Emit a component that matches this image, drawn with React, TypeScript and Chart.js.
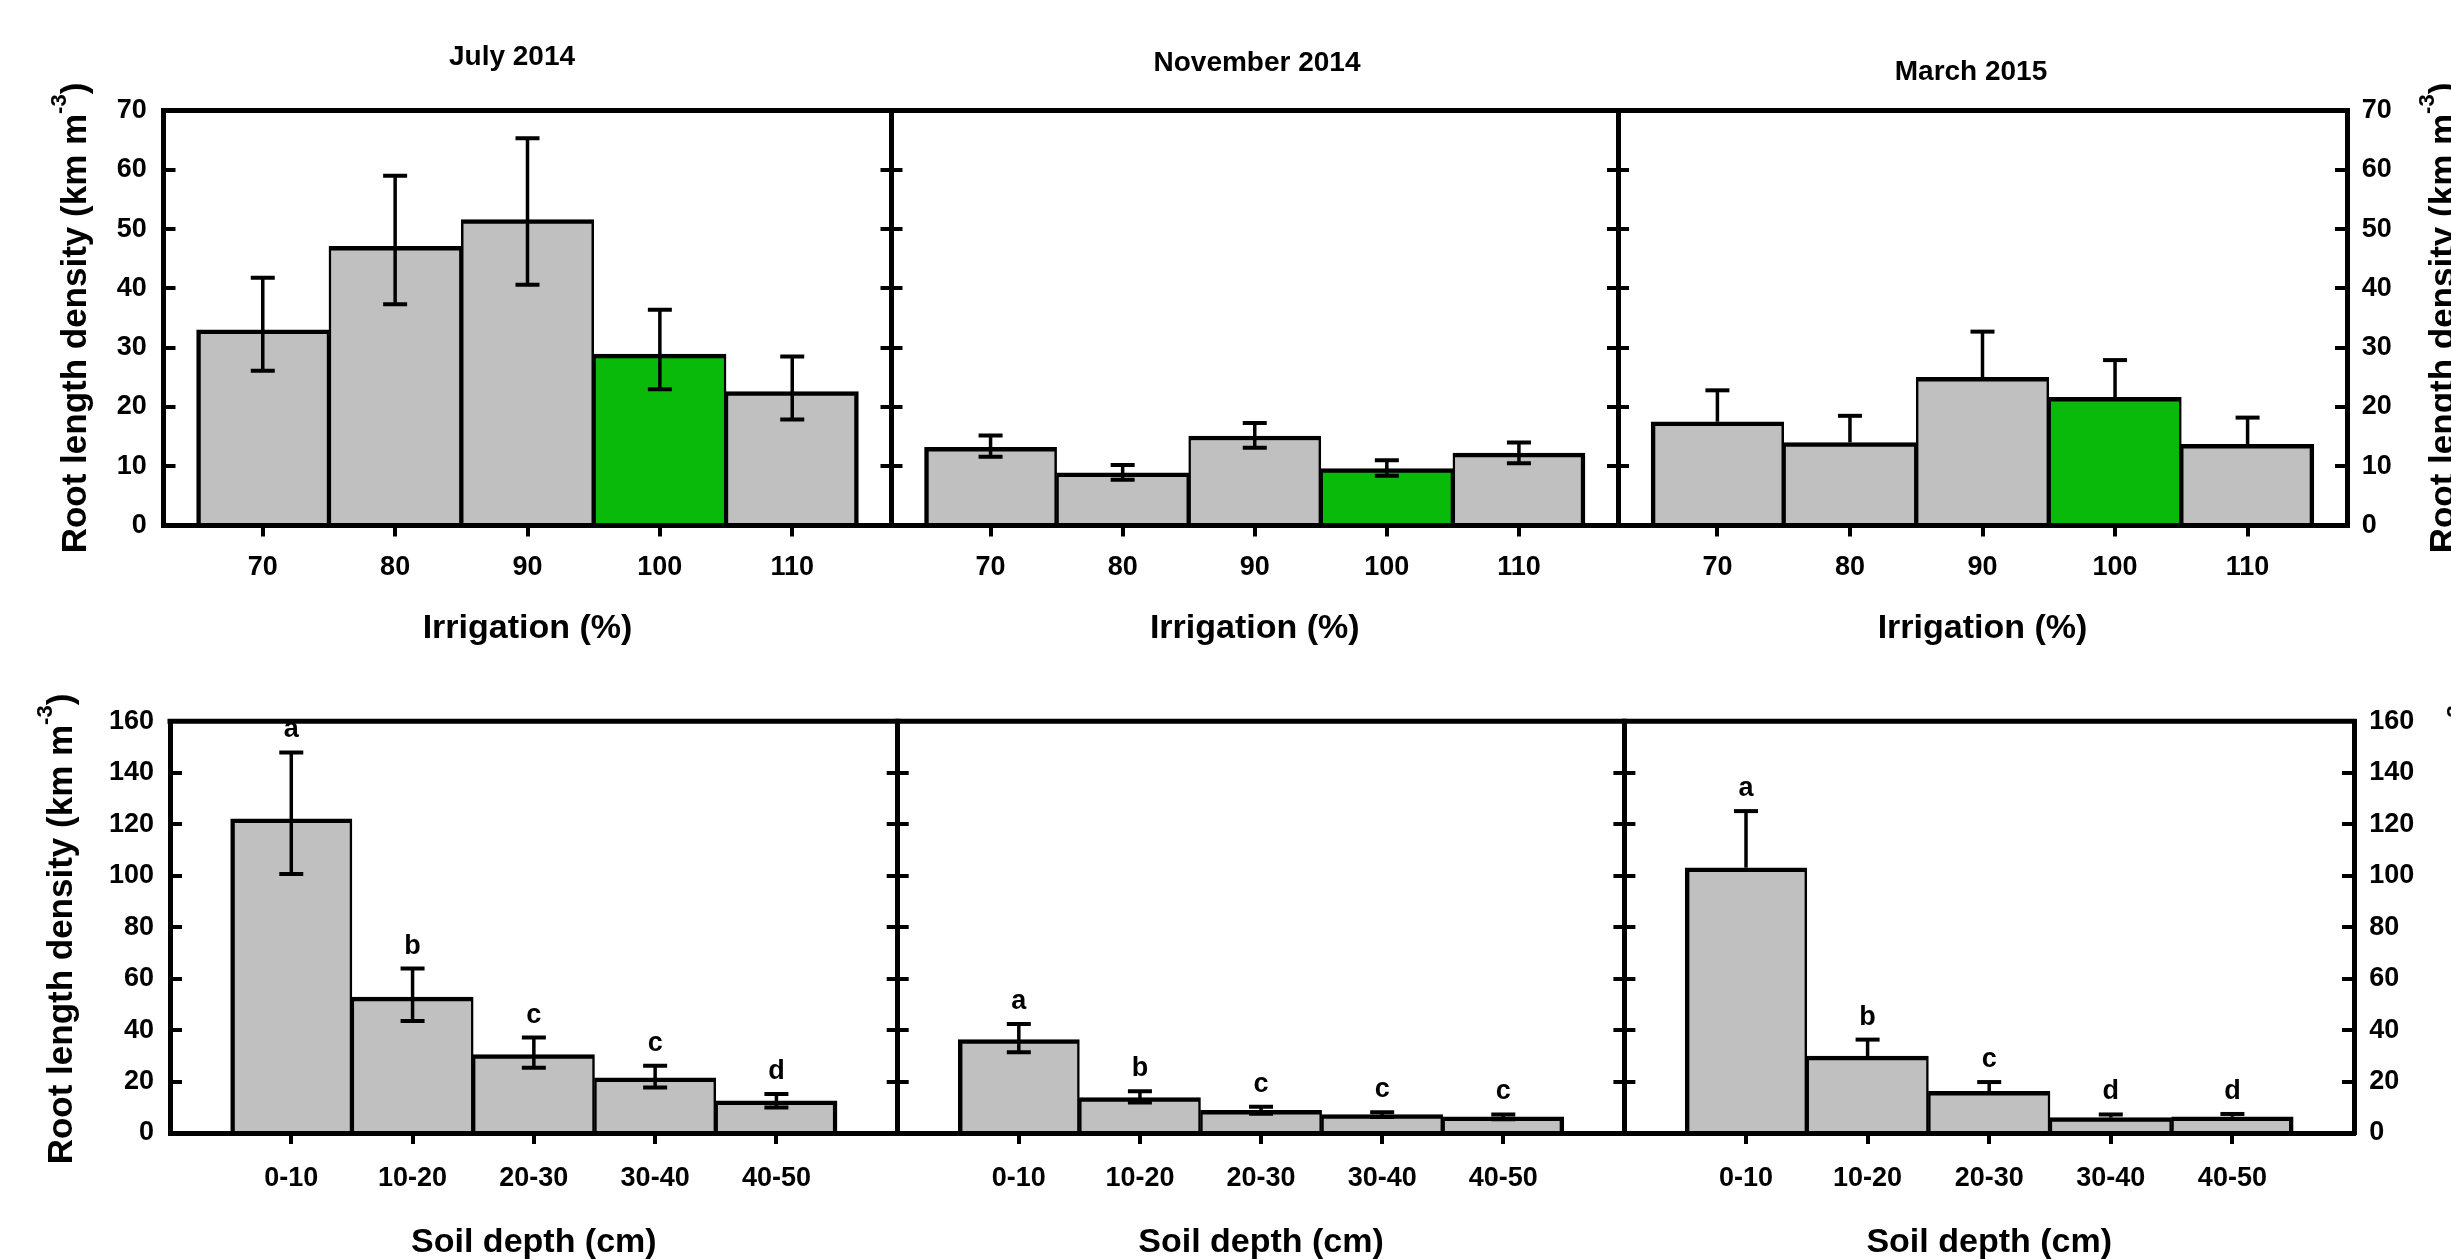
import React, { useEffect, useRef } from 'react';
import { Chart, registerables } from 'chart.js';

Chart.register(...registerables);

const FONT = "'Liberation Sans', Arial, Helvetica, sans-serif";

// ---------------- Data ----------------
const irrigationLevels = [70, 80, 90, 100, 110];
const irrigationTickLabels = ['70', '80', '90', '100', '110'];
const controlIrrigation = 100;

const julyIrrigationMean = [33.0, 47.1, 51.6, 28.9, 22.6];
const julyIrrigationErrUp = [8.8, 11.9, 13.7, 7.5, 5.9];
const julyIrrigationErrDown = [6.9, 9.8, 11.0, 5.9, 4.7];

const novIrrigationMean = [13.2, 8.9, 15.1, 9.6, 12.2];
const novIrrigationErrUp = [2.0, 1.3, 2.2, 1.4, 1.8];
const novIrrigationErrDown = [1.6, 1.2, 2.0, 1.2, 1.7];

const marIrrigationMean = [17.5, 14.0, 25.0, 21.6, 13.7];
const marIrrigationErrUp = [5.3, 4.5, 7.7, 6.3, 4.5];

const depthPositions = [1, 2, 3, 4, 5];
const depthTickLabels = ['0-10', '10-20', '20-30', '30-40', '40-50'];

const julyDepthMean = [122.1, 52.8, 30.5, 21.4, 12.5];
const julyDepthErrUp = [25.8, 11.1, 6.6, 4.7, 2.7];
const julyDepthErrDown = [21.4, 9.3, 5.1, 3.7, 2.6];
const julyDepthLetters = ['a', 'b', 'c', 'c', 'd'];

const novDepthMean = [36.3, 13.8, 8.8, 7.2, 6.3];
const novDepthErrUp = [6.1, 2.4, 1.4, 0.9, 0.9];
const novDepthErrDown = [4.9, 1.9, 1.3, 1.0, 1.0];
const novDepthLetters = ['a', 'b', 'c', 'c', 'c'];

const marDepthMean = [103.1, 29.9, 16.2, 6.0, 6.3];
const marDepthErrUp = [22.0, 6.4, 3.6, 1.2, 1.1];
const marDepthLetters = ['a', 'b', 'c', 'd', 'd'];

const samplingDates = ['July 2014', 'November 2014', 'March 2015'];
const irrigationYTicks = [0, 10, 20, 30, 40, 50, 60, 70];
const depthYTicks = [0, 20, 40, 60, 80, 100, 120, 140, 160];
const yAxisTitleMain = 'Root length density (km m';
const yAxisTitleSup = '-3';
const yAxisTitleEnd = ')';
const irrigationAxisTitle = 'Irrigation (%)';
const depthAxisTitle = 'Soil depth (cm)';

const GRAY = '#c0c0c0';
const GREEN = '#0aba0a';

// ---------------- Layout / panel config ----------------
type PanelCfg = {
  box: [number, number, number, number];
  area: [number, number, number, number];
  x: number[];
  xLabels: string[];
  xMin: number;
  xMax: number;
  xTitle: string;
  xTickPad: number;
  xTitlePadBottom: number;
  yTicks: number[];
  mean: number[];
  up: number[];
  down: number[] | null;
  letters: string[] | null;
  colors: string[];
  title?: { text: string; cx: number; cy: number };
  leftLabels: boolean;
  rightLabels: boolean;
  leftTick: number;
  rightTick: number;
  leftPad: number;
  rightPad: number;
  yTitle?: { side: 'left' | 'right'; baseline: number; center: number };
};

const irrColors = irrigationLevels.map((v) => (v === controlIrrigation ? GREEN : GRAY));
const depthColors = depthPositions.map(() => GRAY);

const topRow = { cy0: 0, cy1: 700, T: 110.5, B: 525.5 };
const botRow = { cy0: 650, cy1: 1300, T: 721.3, B: 1133 };

const panels: PanelCfg[] = [
  {
    box: [0, topRow.cy0, 960, topRow.cy1],
    area: [163.5, topRow.T, 891.5, topRow.B],
    x: irrigationLevels, xLabels: irrigationTickLabels, xMin: 62.5, xMax: 117.5,
    xTitle: irrigationAxisTitle, xTickPad: 15.3, xTitlePadBottom: 50.8,
    yTicks: irrigationYTicks,
    mean: julyIrrigationMean, up: julyIrrigationErrUp, down: julyIrrigationErrDown, letters: null,
    colors: irrColors,
    title: { text: samplingDates[0], cx: 512, cy: 57 },
    leftLabels: true, rightLabels: false, leftTick: -12, rightTick: -11, leftPad: 28.8, rightPad: 27,
    yTitle: { side: 'left', baseline: 86, center: 318 },
  },
  {
    box: [820, topRow.cy0, 1690, topRow.cy1],
    area: [891.5, topRow.T, 1618, topRow.B],
    x: irrigationLevels, xLabels: irrigationTickLabels, xMin: 62.5, xMax: 117.5,
    xTitle: irrigationAxisTitle, xTickPad: 15.3, xTitlePadBottom: 50.8,
    yTicks: irrigationYTicks,
    mean: novIrrigationMean, up: novIrrigationErrUp, down: novIrrigationErrDown, letters: null,
    colors: irrColors,
    title: { text: samplingDates[1], cx: 1257, cy: 63.6 },
    leftLabels: false, rightLabels: false, leftTick: -11, rightTick: -11, leftPad: 28, rightPad: 27,
  },
  {
    box: [1545, topRow.cy0, 2500, topRow.cy1],
    area: [1618, topRow.T, 2347, topRow.B],
    x: irrigationLevels, xLabels: irrigationTickLabels, xMin: 62.5, xMax: 117.5,
    xTitle: irrigationAxisTitle, xTickPad: 15.3, xTitlePadBottom: 50.8,
    yTicks: irrigationYTicks,
    mean: marIrrigationMean, up: marIrrigationErrUp, down: null, letters: null,
    colors: irrColors,
    title: { text: samplingDates[2], cx: 1971, cy: 72.5 },
    leftLabels: false, rightLabels: true, leftTick: -11, rightTick: -12, leftPad: 28, rightPad: 26.7,
    yTitle: { side: 'right', baseline: 2454, center: 318 },
  },
  {
    box: [0, botRow.cy0, 970, botRow.cy1],
    area: [170, botRow.T, 897.7, botRow.B],
    x: depthPositions, xLabels: depthTickLabels, xMin: 0, xMax: 6,
    xTitle: depthAxisTitle, xTickPad: 18.8, xTitlePadBottom: 36.6,
    yTicks: depthYTicks,
    mean: julyDepthMean, up: julyDepthErrUp, down: julyDepthErrDown, letters: julyDepthLetters,
    colors: depthColors,
    leftLabels: true, rightLabels: false, leftTick: -12, rightTick: -11, leftPad: 28, rightPad: 27,
    yTitle: { side: 'left', baseline: 72, center: 929 },
  },
  {
    box: [825, botRow.cy0, 1700, botRow.cy1],
    area: [897.7, botRow.T, 1624.4, botRow.B],
    x: depthPositions, xLabels: depthTickLabels, xMin: 0, xMax: 6,
    xTitle: depthAxisTitle, xTickPad: 18.8, xTitlePadBottom: 36.6,
    yTicks: depthYTicks,
    mean: novDepthMean, up: novDepthErrUp, down: novDepthErrDown, letters: novDepthLetters,
    colors: depthColors,
    leftLabels: false, rightLabels: false, leftTick: -11, rightTick: -11, leftPad: 28, rightPad: 27,
  },
  {
    box: [1550, botRow.cy0, 2520, botRow.cy1],
    area: [1624.4, botRow.T, 2354, botRow.B],
    x: depthPositions, xLabels: depthTickLabels, xMin: 0, xMax: 6,
    xTitle: depthAxisTitle, xTickPad: 18.8, xTitlePadBottom: 36.6,
    yTicks: depthYTicks,
    mean: marDepthMean, up: marDepthErrUp, down: null, letters: marDepthLetters,
    colors: depthColors,
    leftLabels: false, rightLabels: true, leftTick: -11, rightTick: -12, leftPad: 28, rightPad: 27.3,
    yTitle: { side: 'right', baseline: 2482, center: 929 },
  },
];

// ---------------- Plugins ----------------
const errorBarPlugin = {
  id: 'errorBars',
  afterDatasetsDraw(chart: any) {
    const ds: any = chart.data.datasets[0];
    const meta = chart.getDatasetMeta(0);
    const ys = chart.scales.y;
    const ctx = chart.ctx;
    ctx.save();
    ctx.strokeStyle = '#000';
    meta.data.forEach((bar: any, i: number) => {
      const x = bar.x;
      const m = ds.data[i].y;
      const yTop = ys.getPixelForValue(m + ds.errUp[i]);
      const yMid = ys.getPixelForValue(m);
      const yBot = ds.errDown ? ys.getPixelForValue(m - ds.errDown[i]) : yMid;
      ctx.lineWidth = 3.5;
      ctx.beginPath();
      ctx.moveTo(x, yBot);
      ctx.lineTo(x, yTop);
      ctx.stroke();
      ctx.lineWidth = 4;
      ctx.beginPath();
      ctx.moveTo(x - 12, yTop);
      ctx.lineTo(x + 12, yTop);
      if (ds.errDown) {
        ctx.moveTo(x - 12, yBot);
        ctx.lineTo(x + 12, yBot);
      }
      ctx.stroke();
      if (ds.letters) {
        ctx.fillStyle = '#000';
        ctx.font = `bold 27px ${FONT}`;
        ctx.textAlign = 'center';
        ctx.textBaseline = 'alphabetic';
        ctx.fillText(ds.letters[i], x, yTop - 15);
      }
    });
    ctx.restore();
  },
};

function makeDecorPlugin(p: PanelCfg) {
  return {
    id: 'decor',
    afterDraw(chart: any) {
      const ctx = chart.ctx;
      const { left, right, top } = chart.chartArea;
      const [cx0, cy0] = p.box;
      ctx.save();
      // top frame line
      ctx.strokeStyle = '#000';
      ctx.lineWidth = 5;
      ctx.beginPath();
      ctx.moveTo(left - 2.5, top);
      ctx.lineTo(right + 2.5, top);
      ctx.stroke();
      ctx.fillStyle = '#000';
      // panel title
      if (p.title) {
        ctx.font = `bold 28px ${FONT}`;
        ctx.textAlign = 'center';
        ctx.textBaseline = 'middle';
        ctx.fillText(p.title.text, p.title.cx - cx0, p.title.cy - cy0);
      }
      // y axis title with superscript
      if (p.yTitle) {
        const mainFont = `bold 35px ${FONT}`;
        const supFont = `bold 22px ${FONT}`;
        ctx.translate(p.yTitle.baseline - cx0, p.yTitle.center - cy0);
        ctx.rotate(-Math.PI / 2);
        ctx.textAlign = 'left';
        ctx.textBaseline = 'alphabetic';
        ctx.font = mainFont;
        const w1 = ctx.measureText(yAxisTitleMain).width;
        const w3 = ctx.measureText(yAxisTitleEnd).width;
        ctx.font = supFont;
        const w2 = ctx.measureText(yAxisTitleSup).width;
        let u = -(w1 + w2 + w3) / 2;
        ctx.font = mainFont;
        ctx.fillText(yAxisTitleMain, u, 0);
        u += w1;
        ctx.font = supFont;
        ctx.fillText(yAxisTitleSup, u, -20);
        u += w2;
        ctx.font = mainFont;
        ctx.fillText(yAxisTitleEnd, u, 0);
      }
      ctx.restore();
    },
  };
}

function buildConfig(p: PanelCfg): any {
  const [cx0, cy0, cx1, cy1] = p.box;
  const [L, T, R, B] = p.area;
  const leftW = L - cx0;
  const rightW = cx1 - R;
  const bottomH = cy1 - B;
  const tickFont = { family: FONT, size: 27, weight: 'bold' };
  const axisTitleFont = { family: FONT, size: 34, weight: 'bold' };
  const yMin = p.yTicks[0];
  const yMax = p.yTicks[p.yTicks.length - 1];
  const yAxis = (pos: string, show: boolean, tl: number, pad: number, width: number) => ({
    type: 'linear',
    axis: 'y',
    position: pos,
    min: yMin,
    max: yMax,
    afterBuildTicks: (s: any) => {
      s.ticks = p.yTicks.map((v) => ({ value: v }));
    },
    afterFit: (s: any) => {
      s.width = width;
    },
    grid: { display: true, drawOnChartArea: false, drawTicks: true, tickLength: tl, lineWidth: 4, color: '#000' },
    border: { display: true, width: 5, color: '#000', z: 1 },
    ticks: { display: show, font: tickFont, color: '#000', padding: pad, autoSkip: false },
  });

  return {
    type: 'bar',
    data: {
      datasets: [
        {
          data: p.x.map((xv, i) => ({ x: xv, y: p.mean[i] })),
          backgroundColor: p.colors,
          borderColor: '#000',
          borderWidth: (c: any) => ({
            top: 4.5,
            bottom: 0,
            left: c.dataIndex === 0 ? 4.5 : 2.5,
            right: c.dataIndex === p.x.length - 1 ? 4.5 : 2.5,
          }),
          borderSkipped: false,
          barPercentage: 1,
          categoryPercentage: 1,
          errUp: p.up,
          errDown: p.down,
          letters: p.letters,
        },
      ],
    },
    options: {
      animation: false,
      responsive: false,
      devicePixelRatio: 1,
      events: [],
      layout: { padding: { left: 0, right: 0, top: T - cy0, bottom: 0 } },
      plugins: { legend: { display: false }, tooltip: { enabled: false }, title: { display: false } },
      scales: {
        x: {
          type: 'linear',
          min: p.xMin,
          max: p.xMax,
          offset: false,
          afterBuildTicks: (s: any) => {
            s.ticks = p.x.map((v) => ({ value: v }));
          },
          afterFit: (s: any) => {
            s.height = bottomH;
          },
          grid: {
            display: true,
            offset: false,
            drawOnChartArea: false,
            drawTicks: true,
            tickLength: 11,
            lineWidth: 4,
            color: '#000',
          },
          border: { display: true, width: 5, color: '#000', z: 1 },
          ticks: {
            font: tickFont,
            color: '#000',
            padding: p.xTickPad,
            autoSkip: false,
            maxRotation: 0,
            minRotation: 0,
            callback: (v: number) => p.xLabels[p.x.indexOf(v)],
          },
          title: {
            display: true,
            text: p.xTitle,
            font: axisTitleFont,
            color: '#000',
            padding: { top: 0, bottom: p.xTitlePadBottom },
          },
        },
        y: yAxis('left', p.leftLabels, p.leftTick, p.leftPad, leftW),
        y2: yAxis('right', p.rightLabels, p.rightTick, p.rightPad, rightW),
      },
    },
    plugins: [errorBarPlugin, makeDecorPlugin(p)],
  };
}

function Panel({ p }: { p: PanelCfg }) {
  const ref = useRef<HTMLCanvasElement>(null);
  const [cx0, cy0, cx1, cy1] = p.box;
  useEffect(() => {
    if (!ref.current) return;
    const chart = new Chart(ref.current, buildConfig(p));
    return () => chart.destroy();
  }, []);
  return (
    <canvas
      ref={ref}
      width={cx1 - cx0}
      height={cy1 - cy0}
      style={{ position: 'absolute', left: cx0, top: cy0, width: cx1 - cx0, height: cy1 - cy0 }}
    />
  );
}

export default function App() {
  return (
    <div
      style={{
        position: 'absolute',
        left: 0,
        top: 0,
        width: 2451,
        height: 1259,
        overflow: 'hidden',
        background: '#ffffff',
      }}
    >
      {panels.map((p, i) => (
        <Panel key={i} p={p} />
      ))}
    </div>
  );
}
